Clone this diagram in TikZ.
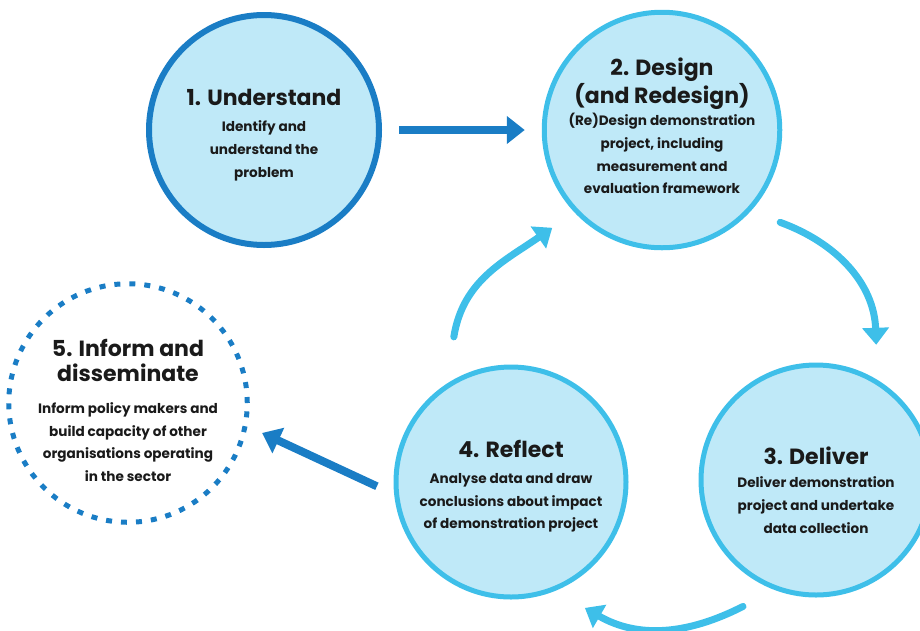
\documentclass[tikz,border=0pt]{standalone}
\usepackage{fontspec}
\setmainfont{Poppins}
\usetikzlibrary{arrows.meta}

\definecolor{stepfill}{HTML}{BFE9F8}
\definecolor{stepline}{HTML}{3EBFE9}
\definecolor{keyblue}{HTML}{1A7DC5}
\definecolor{inktext}{HTML}{1A1A1A}
\newcommand{\steptitle}{\fontsize{22}{22.5}\selectfont}
\newcommand{\stepbody}{\fontsize{13.6}{22.7}\selectfont}
% pushes a text block down (top strut) or up (bottom strut)
\newcommand{\topstrut}[1]{\rule{0pt}{#1}}
\newcommand{\botstrut}[1]{\rule[-#1]{0pt}{#1}}

\begin{document}
\begin{tikzpicture}[x=1pt, y=1pt,
  stage/.style={circle, draw=stepline, line width=5pt, fill=stepfill,
    minimum size=2*\radius, inner sep=0pt, align=center,
    text=inktext, font=\bfseries\stepbody},
  keyarrow/.style={draw=keyblue, line width=8pt,
    -{Triangle[width=27pt,length=18pt]}},
  cyclearrow/.style={draw=stepline, line width=7pt, line cap=round,
    -{Triangle[width=26pt,length=17pt]}}]
\def \radius {115pt}

\useasboundingbox (0,0) rectangle (920,-630);
\clip (0,0) rectangle (920,-630);

\node[stage, draw=keyblue, line width=6pt] at (264,-130) (understand)
  {{\steptitle\topstrut{26pt}1. Understand}\\[4pt] Identify and\\ understand the\\ problem};
\node[stage] at (662,-130) (design)
  {{\steptitle 2. Design}\\[0.5pt] {\steptitle (and Redesign)}\\[-0.5pt]
   (Re)Design demonstration\\ project, including\\ measurement and\\ evaluation framework\botstrut{8pt}};
\node[stage] at (816,-480) (deliver)
  {{\steptitle\topstrut{38pt}3. Deliver}\\[0pt] Deliver demonstration\\ project and undertake\\ data collection};
\node[stage] at (511,-482) (reflect)
  {{\steptitle\topstrut{26pt}4. Reflect}\\[3pt] Analyse data and draw\\ conclusions about impact\\ of demonstration project};
\node[stage, fill=none, draw=keyblue, dash pattern=on 6pt off 9pt] at (128,-403) (inform)
  {{\steptitle\topstrut{32pt}5. Inform and}\\[2.5pt] {\steptitle disseminate}\\[9pt]
   Inform policy makers and\\ build capacity of other\\ organisations operating\\ in the sector};

% ends of the cycle arrows
\path (design) ++(-38:150pt) coordinate (a23s);
\path (deliver) ++(66:148pt) coordinate (a23e);
\path (deliver) ++(240:146pt) coordinate (a34s);
\path (reflect) ++(-59.6:146pt) coordinate (a34e);
\path (reflect) ++(111.5:156pt) coordinate (a42s);
\path (design) ++(221.7:147pt) coordinate (a42e);

\draw[keyarrow, shorten <=17pt, shorten >=17pt] (understand) -- (design);
\draw[keyarrow, shorten <=19pt, shorten >=16pt] (reflect.186) -- (inform.-11);

\draw[cyclearrow] (a23s) to[out=-20, in=92] (a23e);
\draw[cyclearrow] (a34s) to[out=207, in=-30] (a34e);
\draw[cyclearrow] (a42s) to[out=81, in=215] (a42e);

\end{tikzpicture}
\end{document}
